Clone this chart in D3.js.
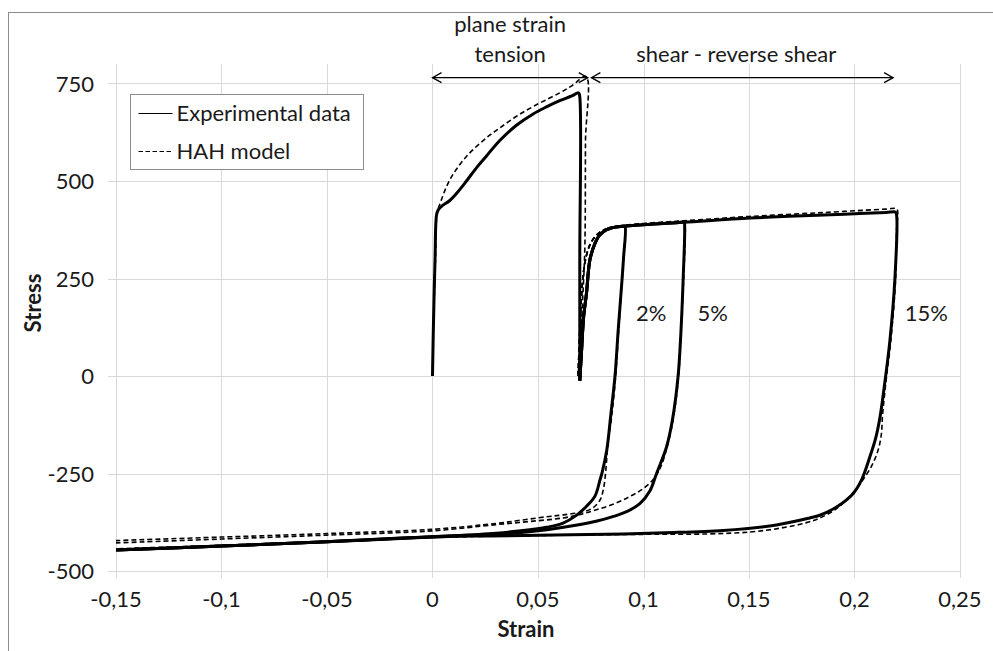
<!DOCTYPE html>
<html>
<head>
<meta charset="utf-8">
<script src="https://cdn.jsdelivr.net/npm/d3@7"></script>
<style>
  body { margin: 0; background: #fff; }
  svg { display: block; font-family: Lato, "Open Sans", sans-serif; }
  .grid line { stroke: #d9d9d9; stroke-width: 1; }
  .tick-label { font-size: 22px; fill: #1a1a1a; }
  .axis-title { font-size: 22px; font-weight: bold; fill: #1a1a1a; }
  .note { font-size: 22px; fill: #1a1a1a; }
</style>
</head>
<body>
<svg id="chart" width="993" height="651"></svg>
<script>
// strain ticks and stress ticks
var strainTicks = [-0.15, -0.1, -0.05, 0, 0.05, 0.1, 0.15, 0.2, 0.25];
var stressTicks = [-500, -250, 0, 250, 500, 750];

// experimental data (solid)
var expTension = [[0,0],[0.0004,120],[0.0012,300],[0.0019,412],[0.0027,426],[0.0045,436],[0.0082,450],[0.0120,472],[0.0161,500],[0.0210,535],[0.0254,563],[0.0319,604],[0.0398,643],[0.0477,672],[0.0540,690],[0.0603,706],[0.0660,718],[0.0692,726],[0.0697,720],[0.0698,300],[0.0698,-12]];
var expShear = [[0.0698,-12],[0.0706,60],[0.0716,150],[0.0730,213],[0.0746,298],[0.0770,340],[0.0790,360],[0.0825,375],[0.0870,382],[0.0905,384]];
var exp2 = [[0.0912,384],[0.0905,300],[0.0880,117],[0.0865,0],[0.0845,-100],[0.0826,-190],[0.0805,-245],[0.0794,-266],[0.0770,-308],[0.0730,-334],[0.0680,-358],[0.0619,-377],[0.0540,-388],[0.0461,-394],[0.0303,-403],[0,-412],[-0.05,-425],[-0.1,-436],[-0.15,-446]];
var exp5 = [[0.1000,388],[0.1160,393],[0.1192,394],[0.1195,380],[0.1188,250],[0.1180,142],[0.1164,0],[0.1137,-113],[0.1109,-182],[0.1062,-250],[0.1030,-295],[0.0985,-326],[0.0920,-348],[0.0858,-360],[0.0780,-372],[0.0700,-381],[0.0542,-394],[0.0384,-403],[0,-413],[-0.05,-425],[-0.1,-436],[-0.15,-446]];
var exp15 = [[0.1000,388],[0.1190,394],[0.1507,405],[0.1853,413],[0.2000,416],[0.2150,419],[0.2195,420],[0.2200,410],[0.2191,245],[0.2168,92],[0.2145,-11],[0.2121,-105],[0.2100,-160],[0.2073,-207],[0.2033,-267],[0.1994,-301],[0.1915,-336],[0.1836,-357],[0.1788,-364],[0.1630,-382],[0.1378,-396],[0.1100,-402],[0.0904,-405],[0.0272,-410],[0,-412],[-0.05,-425],[-0.1,-436],[-0.15,-446]];

// HAH model (dashed)
var modTension = [[0,0],[0.0004,120],[0.0014,300],[0.0022,420],[0.0031,435],[0.0082,503],[0.0161,563],[0.0254,610],[0.0319,636],[0.0398,666],[0.0477,691],[0.0603,726],[0.0660,744],[0.0727,768],[0.0725,600],[0.0722,330],[0.0712,200],[0.0700,80],[0.0690,0]];
var modShear = [[0.0690,0],[0.0697,100],[0.0708,220],[0.0722,290],[0.0745,335],[0.0775,360],[0.0810,374],[0.0870,383],[0.0905,386]];
var mod2 = [[0.0912,386],[0.0905,300],[0.0882,117],[0.0868,0],[0.0850,-100],[0.0832,-170],[0.0826,-210],[0.0820,-250],[0.0810,-290],[0.0794,-318],[0.0760,-338],[0.0715,-348],[0.0620,-356],[0.0541,-361],[0.0400,-371],[0.0303,-378],[0,-393],[-0.05,-404],[-0.1,-413],[-0.15,-422]];
var mod5 = [[0.1000,390],[0.1160,396],[0.1195,397],[0.1198,380],[0.1190,250],[0.1180,142],[0.1166,0],[0.1140,-113],[0.1112,-182],[0.1080,-235],[0.1045,-266],[0.0990,-292],[0.0935,-309],[0.0860,-328],[0.0777,-343],[0.0700,-355],[0.0619,-364],[0.0461,-373],[0.0303,-381],[0,-397],[-0.05,-408],[-0.1,-418],[-0.15,-428]];
var mod15 = [[0.1000,391],[0.1195,398],[0.1500,409],[0.1850,419],[0.2150,428],[0.2200,429],[0.2205,420],[0.2200,380],[0.2195,250],[0.2172,90],[0.2150,-10],[0.2133,-100],[0.2127,-150],[0.2112,-190],[0.2080,-232],[0.2035,-270],[0.1995,-298],[0.1915,-340],[0.1836,-364],[0.1773,-376],[0.1650,-390],[0.1505,-400],[0.1300,-405],[0.1000,-406],[0.0500,-409],[0,-414],[-0.05,-424],[-0.1,-434],[-0.15,-443]];

var legendItems = ["Experimental data", "HAH model"];
var loopLabels = [{text: "2%", x: 0.1037, y: 140}, {text: "5%", x: 0.1328, y: 140}, {text: "15%", x: 0.2340, y: 140}];
var ranges = [{text: ["plane strain", "tension"], from: 0, to: 0.0736, y: 765},
              {text: ["shear - reverse shear"], from: 0.0753, to: 0.2183, y: 765}];

var svg = d3.select("#chart");
var margin = {top: 64, right: 33, bottom: 80, left: 116};
var width = 960 - margin.left;
var height = 571 - margin.top;

// chart border
svg.append("rect")
    .attr("x", 8.5).attr("y", 12.5)
    .attr("width", 1000).attr("height", 700)
    .attr("fill", "#fff").attr("stroke", "#8c8c8c");

var x = d3.scaleLinear().domain([-0.15, 0.25]).range([0, width]);
var y = d3.scaleLinear().domain([-500, 800]).range([height, 0]);

var g = svg.append("g")
    .attr("transform", "translate(" + margin.left + "," + margin.top + ")");

var fmt = function(d) { return String(d).replace(".", ","); };

var grid = g.append("g").attr("class", "grid");
grid.selectAll(".v").data(strainTicks).enter().append("line")
    .attr("x1", function(d) { return Math.round(x(d)) + 0.5; })
    .attr("x2", function(d) { return Math.round(x(d)) + 0.5; })
    .attr("y1", 0).attr("y2", height + 7);
grid.selectAll(".h").data(stressTicks).enter().append("line")
    .attr("y1", function(d) { return Math.round(y(d)) + 0.5; })
    .attr("y2", function(d) { return Math.round(y(d)) + 0.5; })
    .attr("x1", -8).attr("x2", width);

g.selectAll(".xl").data(strainTicks).enter().append("text")
    .attr("class", "tick-label")
    .attr("x", function(d) { return x(d); })
    .attr("y", height + 36)
    .attr("text-anchor", "middle")
    .text(fmt);

g.selectAll(".yl").data(stressTicks).enter().append("text")
    .attr("class", "tick-label")
    .attr("x", -22)
    .attr("y", function(d) { return y(d) + 8; })
    .attr("text-anchor", "end")
    .text(fmt);

svg.append("text").attr("class", "axis-title")
    .attr("x", 526).attr("y", 637)
    .attr("text-anchor", "middle").text("Strain");
svg.append("text").attr("class", "axis-title")
    .attr("transform", "translate(41,303) rotate(-90)")
    .attr("text-anchor", "middle").text("Stress");

var line = d3.line()
    .curve(d3.curveCatmullRom.alpha(0.5))
    .x(function(d) { return x(d[0]); })
    .y(function(d) { return y(d[1]); });

var expSeries = [expTension, expShear.concat(exp2), expShear.concat(exp5), expShear.concat(exp15)];
var modSeries = [modTension, modShear.concat(mod2), modShear.concat(mod5), modShear.concat(mod15)];

g.selectAll(".exp").data(expSeries).enter().append("path")
    .attr("class", "exp")
    .attr("d", line)
    .attr("fill", "none")
    .attr("stroke", "#000")
    .attr("stroke-width", 3)
    .attr("stroke-linejoin", "round");

g.selectAll(".mod").data(modSeries).enter().append("path")
    .attr("class", "mod")
    .attr("d", line)
    .attr("fill", "none")
    .attr("stroke", "#000")
    .attr("stroke-width", 1.6)
    .attr("stroke-dasharray", "5,3");

// arrows
var defs = svg.append("defs");
["start", "end"].forEach(function(k) {
    defs.append("marker")
        .attr("id", "arr-" + k)
        .attr("markerUnits", "userSpaceOnUse")
        .attr("viewBox", "-10 -6 12 12")
        .attr("markerWidth", 12).attr("markerHeight", 12)
        .attr("refX", 0).attr("refY", 0)
        .attr("orient", k === "end" ? "auto" : "auto-start-reverse")
        .append("path")
        .attr("d", "M-9,-5L0,0L-9,5")
        .attr("fill", "none").attr("stroke", "#000").attr("stroke-width", 1.3);
});

ranges.forEach(function(r) {
    g.append("line")
        .attr("x1", x(r.from)).attr("x2", x(r.to))
        .attr("y1", y(r.y)).attr("y2", y(r.y))
        .attr("stroke", "#000").attr("stroke-width", 1.3)
        .attr("marker-start", "url(#arr-start)")
        .attr("marker-end", "url(#arr-end)");
    var cx = (x(r.from) + x(r.to)) / 2;
    r.text.forEach(function(t, i) {
        g.append("text").attr("class", "note")
            .attr("x", cx + (r.text.length > 1 ? 0 : -6))
            .attr("y", y(r.y) - 16 - (r.text.length - 1 - i) * 30)
            .attr("text-anchor", "middle")
            .text(t);
    });
});

g.selectAll(".loop").data(loopLabels).enter().append("text")
    .attr("class", "note")
    .attr("x", function(d) { return x(d.x); })
    .attr("y", function(d) { return y(d.y); })
    .attr("text-anchor", "middle")
    .text(function(d) { return d.text; });

// legend
var lg = svg.append("g").attr("transform", "translate(130.5,94.5)");
lg.append("rect").attr("width", 233).attr("height", 75)
    .attr("fill", "#fff").attr("stroke", "#8c8c8c");
legendItems.forEach(function(name, i) {
    lg.append("line")
        .attr("x1", 8).attr("x2", 42)
        .attr("y1", 19 + i * 38).attr("y2", 19 + i * 38)
        .attr("stroke", "#000").attr("stroke-width", 1)
        .attr("stroke-dasharray", i === 1 ? "4.5,2.5" : null);
    lg.append("text").attr("class", "note")
        .attr("x", 46).attr("y", 26 + i * 38)
        .text(name);
});
</script>
</body>
</html>
